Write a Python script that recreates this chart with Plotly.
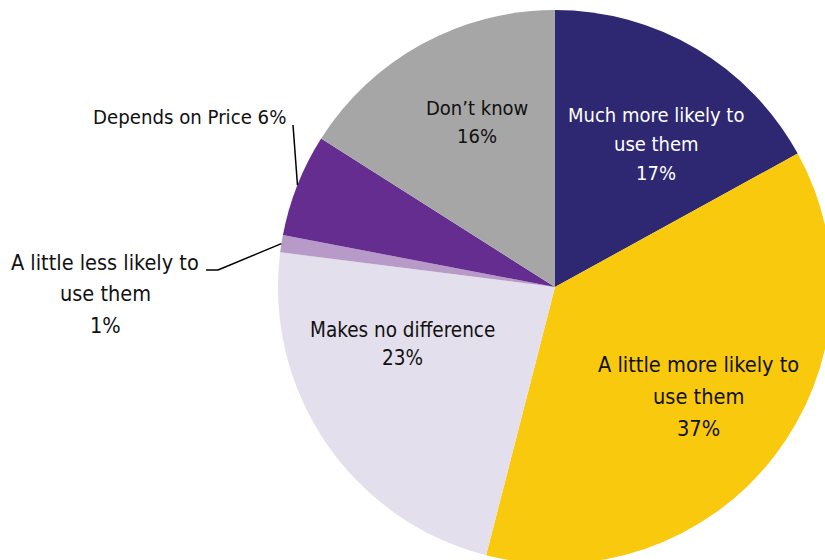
import math
import plotly.graph_objects as go

# Survey responses, clockwise from 12 o'clock
categories = [
    "Much more likely to use them",
    "A little more likely to use them",
    "Makes no difference",
    "A little less likely to use them",
    "Depends on Price",
    "Don\u2019t know",
]
shares = [17, 37, 23, 1, 6, 16]
colors = ["#2E2872", "#F9C90D", "#E4DFEC", "#B89AC8", "#662D91", "#A6A6A6"]

# Canvas: the pie is intentionally larger than the visible area on the right/bottom
W, H = 1110, 574
CX, CY, R = 555, 287, 277

FONT = "Liberation Sans Narrow, Arial Narrow, DejaVu Sans Condensed, sans-serif"
INK = "#111111"


def px(x, y):
    """Pixel position -> paper coordinates."""
    return x / W, 1 - y / H


fig = go.Figure(
    go.Pie(
        labels=categories,
        values=shares,
        sort=False,
        direction="clockwise",
        rotation=0,
        marker=dict(colors=colors, line=dict(width=0)),
        textinfo="none",
        hoverinfo="skip",
        showlegend=False,
        domain=dict(x=[0, 1], y=[1 - (CY + R) / H, 1 - (CY - R) / H]),
    )
)

# Label blocks: (slice index, lines, anchor x, first-line y, line step, colour, size, xanchor)
blocks = [
    (0, ["Much more likely to", "use them", f"{shares[0]}%"], 656, 115, 29, "white", 20, "center"),
    (1, ["A little more likely to", "use them", f"{shares[1]}%"], 698, 364, 32, INK, 21.6, "center"),
    (2, ["Makes no difference", f"{shares[2]}%"], 402, 330, 28, INK, 20.5, "center"),
    (5, ["Don\u2019t know", f"{shares[5]}%"], 477, 108, 28, INK, 20, "center"),
    (4, [f"{categories[4]} {shares[4]}%"], 288, 117, 0, INK, 20.2, "right"),
    (3, ["A little less likely to", "use them", f"{shares[3]}%"], 105, 262, 31.5, INK, 21.5, "center"),
]
annotations = []
for i, lines, x, y0, step, col, size, xa in blocks:
    for k, line in enumerate(lines):
        ax, ay = px(x, y0 + k * step)
        annotations.append(
            dict(
                text=line,
                x=ax, y=ay, xref="paper", yref="paper",
                xanchor=xa, yanchor="middle",
                showarrow=False, align="center",
                font=dict(family=FONT, size=size, color=col),
            )
        )


def edge_point(idx):
    """Point on the rim at the middle of slice idx."""
    total = sum(shares)
    start = sum(shares[:idx]) / total * 360
    mid = math.radians(start + shares[idx] / total * 360 / 2)
    return CX + R * math.sin(mid), CY - R * math.cos(mid)


shapes = []
leaders = [
    [(293, 125), edge_point(4)],
    [(206, 270), (218, 270), edge_point(3)],
]
for pts in leaders:
    for (a, b), (c, d) in zip(pts[:-1], pts[1:]):
        x0, y0 = px(a, b)
        x1, y1 = px(c, d)
        shapes.append(dict(type="line", xref="paper", yref="paper",
                           x0=x0, y0=y0, x1=x1, y1=y1,
                           line=dict(color="black", width=1.5)))

fig.update_layout(
    width=W, height=H,
    margin=dict(l=0, r=0, t=0, b=0),
    paper_bgcolor="white", plot_bgcolor="white",
    annotations=annotations, shapes=shapes,
)

fig.write_html("out.html")
